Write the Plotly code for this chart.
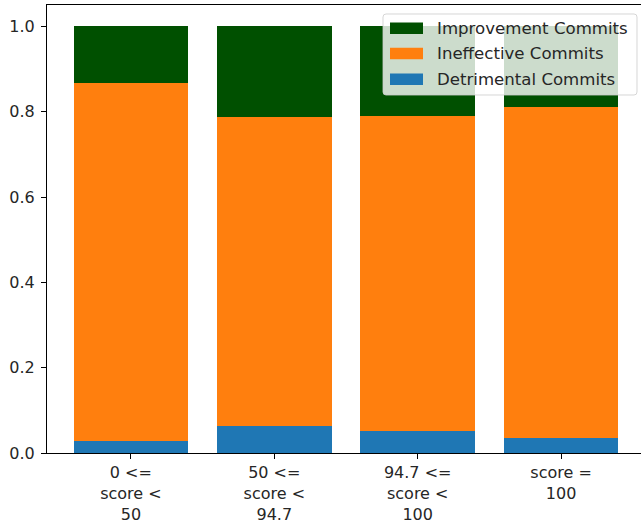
import plotly.graph_objects as go

# Share of commits per score bucket
categories = ["0 &lt;=<br>score &lt;<br>50", "50 &lt;=<br>score &lt;<br>94.7",
              "94.7 &lt;=<br>score &lt;<br>100", "score =<br>100"]
detrimental = [0.028, 0.063, 0.051, 0.034]
ineffective = [0.839, 0.725, 0.739, 0.777]
improvement = [0.133, 0.212, 0.210, 0.189]

series_names = ["Detrimental Commits", "Ineffective Commits", "Improvement Commits"]
series_colors = ["#1f77b4", "#ff7f0e", "#005000"]
series_values = [detrimental, ineffective, improvement]

W, H = 641, 523
ML, MR, MT, MB = 47, 0, 5, 70
PW, PH = W - ML - MR, H - MT - MB
FONT = "DejaVu Sans"
FSIZE = 16

xpos = list(range(len(categories)))

fig = go.Figure()
for name, color, vals in zip(series_names, series_colors, series_values):
    fig.add_trace(go.Bar(
        x=xpos, y=vals, name=name, width=0.8,
        marker=dict(color=color, line=dict(width=0)),
        showlegend=False,
    ))


def px_x(p):
    return (p - ML) / PW


def px_y(p):
    return (H - MB - p) / PH


shapes = []
annotations = []

# legend frame with rounded corners
x0, x1 = px_x(383), px_x(637)
y0, y1 = px_y(95), px_y(14)
rx, ry = 3 / PW, 3 / PH
path = (f"M {x0+rx},{y0} L {x1-rx},{y0} Q {x1},{y0} {x1},{y0+ry} "
        f"L {x1},{y1-ry} Q {x1},{y1} {x1-rx},{y1} L {x0+rx},{y1} "
        f"Q {x0},{y1} {x0},{y1-ry} L {x0},{y0+ry} Q {x0},{y0} {x0+rx},{y0} Z")
shapes.append(dict(type="path", path=path, xref="paper", yref="paper",
                   fillcolor="rgba(255,255,255,0.8)",
                   line=dict(color="rgba(204,204,204,0.8)", width=1),
                   layer="above"))

row_centers = [28.3, 53.5, 79.2]
for i, (name, color) in enumerate(zip(series_names[::-1], series_colors[::-1])):
    cy = row_centers[i]
    shapes.append(dict(type="rect", xref="paper", yref="paper",
                       x0=px_x(390), x1=px_x(423),
                       y0=px_y(cy + 5.7), y1=px_y(cy - 5.7),
                       fillcolor=color, line=dict(width=0), layer="above"))
    annotations.append(dict(text=name, xref="paper", yref="paper",
                            x=px_x(435), y=px_y(cy), xanchor="left", yanchor="middle",
                            showarrow=False,
                            font=dict(family=FONT, size=16.6, color="#262626")))

fig.update_layout(
    width=W, height=H,
    margin=dict(l=ML, r=MR, t=MT, b=MB, pad=0),
    barmode="stack", bargap=0,
    plot_bgcolor="white", paper_bgcolor="white",
    font=dict(family=FONT, size=FSIZE, color="#262626"),
    shapes=shapes, annotations=annotations,
    xaxis=dict(
        range=[-0.585, -0.585 + PW / 143.4],
        tickmode="array", tickvals=xpos, ticktext=categories,
        showgrid=False, zeroline=False,
        showline=True, linecolor="black", linewidth=1, mirror=True,
        ticks="outside", ticklen=5, tickcolor="black", tickwidth=1,
        tickfont=dict(family=FONT, size=FSIZE, color="#262626"),
    ),
    yaxis=dict(
        range=[0, 1.05],
        tickmode="array", tickvals=[0, 0.2, 0.4, 0.6, 0.8, 1.0],
        tickformat=".1f",
        showgrid=False, zeroline=False,
        showline=True, linecolor="black", linewidth=1,
        ticks="outside", ticklen=5, tickcolor="black", tickwidth=1,
        ticklabelstandoff=3,
        tickfont=dict(family=FONT, size=FSIZE, color="#262626"),
    ),
)

fig.write_html("out.html")
